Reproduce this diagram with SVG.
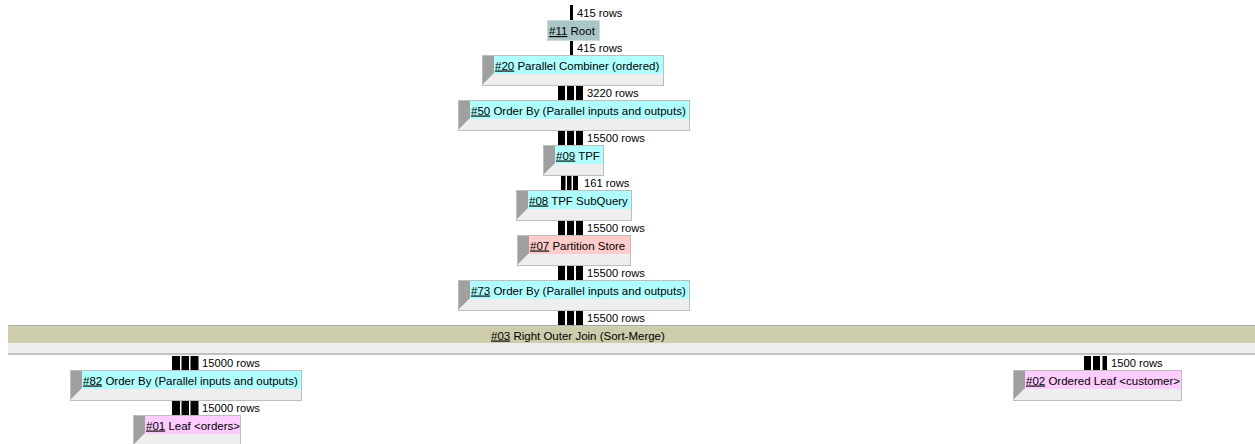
<svg xmlns="http://www.w3.org/2000/svg" width="1255" height="444" viewBox="0 0 1255 444">
<style>
text{font-family:"Liberation Sans",Arial,sans-serif;fill:#000}
.lbl{font-size:11.5px}
.rows{font-size:11.2px}
.u{text-decoration:underline}
.box{fill:#eeeeee;stroke:#bdbdbd;stroke-width:1}
.strip{fill:#a0a0a0}
.cyan{fill:#b0ffff}
.pinkr{fill:#ffcccc}
.pinkm{fill:#ffccff}
.bar{fill:#000}
</style>
<rect width="1255" height="444" fill="#ffffff"/>
<g id="connectors">
<rect class="bar" x="570" y="5" width="3" height="15"/>
<text class="rows" x="577" y="17">415 rows</text>
<rect class="bar" x="570" y="41" width="3" height="14"/>
<text class="rows" x="577" y="52">415 rows</text>
<rect class="bar" x="558" y="86" width="7" height="14"/><rect class="bar" x="567" y="86" width="7" height="14"/><rect class="bar" x="576" y="86" width="7" height="14"/>
<text class="rows" x="587" y="97">3220 rows</text>
<rect class="bar" x="558" y="131" width="7" height="14"/><rect class="bar" x="567" y="131" width="7" height="14"/><rect class="bar" x="576" y="131" width="7" height="14"/>
<text class="rows" x="587" y="142">15500 rows</text>
<rect class="bar" x="561" y="176" width="4.5" height="14"/><rect class="bar" x="567" y="176" width="4.5" height="14"/><rect class="bar" x="573" y="176" width="5" height="14"/>
<text class="rows" x="584" y="187">161 rows</text>
<rect class="bar" x="558" y="221" width="7" height="14"/><rect class="bar" x="567" y="221" width="7" height="14"/><rect class="bar" x="576" y="221" width="7" height="14"/>
<text class="rows" x="587" y="232">15500 rows</text>
<rect class="bar" x="558" y="266" width="7" height="14"/><rect class="bar" x="567" y="266" width="7" height="14"/><rect class="bar" x="576" y="266" width="7" height="14"/>
<text class="rows" x="587" y="277">15500 rows</text>
<rect class="bar" x="558" y="311" width="7" height="14"/><rect class="bar" x="567" y="311" width="7" height="14"/><rect class="bar" x="576" y="311" width="7" height="14"/>
<text class="rows" x="587" y="322">15500 rows</text>
<rect class="bar" x="172" y="356" width="8" height="14"/><rect class="bar" x="181.5" y="356" width="7.5" height="14"/><rect class="bar" x="190.5" y="356" width="8" height="14"/>
<text class="rows" x="202" y="367">15000 rows</text>
<rect class="bar" x="1084" y="356" width="7" height="14"/><rect class="bar" x="1093" y="356" width="7" height="14"/><rect class="bar" x="1102.5" y="356" width="4.5" height="14"/>
<text class="rows" x="1111" y="367">1500 rows</text>
<rect class="bar" x="172" y="401" width="8" height="14"/><rect class="bar" x="181.5" y="401" width="7.5" height="14"/><rect class="bar" x="190.5" y="401" width="8" height="14"/>
<text class="rows" x="202" y="412">15000 rows</text>
</g>
<g id="n11">
<rect x="547.5" y="20.5" width="52" height="20" fill="#aac6c6" stroke="#c9dada"/>
<text class="lbl" x="549" y="35"><tspan class="u">#11</tspan> Root</text>
</g>
<g id="n20">
<rect class="box" x="482.5" y="55.5" width="181" height="30"/>
<polygon class="strip" points="483,56 494,56 494,73 483,84"/>
<rect class="cyan" x="494" y="56" width="169" height="18"/>
<text class="lbl" x="495" y="69.5"><tspan class="u">#20</tspan> Parallel Combiner (ordered)</text>
</g>
<g id="n50">
<rect class="box" x="458.5" y="100.5" width="231" height="30"/>
<polygon class="strip" points="459,101 470,101 470,118 459,129"/>
<rect class="cyan" x="470" y="101" width="219" height="18"/>
<text class="lbl" x="471" y="114.5"><tspan class="u">#50</tspan> Order By (Parallel inputs and outputs)</text>
</g>
<g id="n09">
<rect class="box" x="543.5" y="145.5" width="60" height="30"/>
<polygon class="strip" points="544,146 555,146 555,163 544,174"/>
<rect class="cyan" x="555" y="146" width="48" height="18"/>
<text class="lbl" x="556" y="159.5"><tspan class="u">#09</tspan> TPF</text>
</g>
<g id="n08">
<rect class="box" x="516.5" y="190.5" width="115" height="30"/>
<polygon class="strip" points="517,191 528,191 528,208 517,219"/>
<rect class="cyan" x="528" y="191" width="103" height="18"/>
<text class="lbl" x="529" y="204.5"><tspan class="u">#08</tspan> TPF SubQuery</text>
</g>
<g id="n07">
<rect class="box" x="517.5" y="235.5" width="113" height="30"/>
<polygon class="strip" points="518,236 529,236 529,253 518,264"/>
<rect class="pinkr" x="529" y="236" width="101" height="18"/>
<text class="lbl" x="530" y="249.5"><tspan class="u">#07</tspan> Partition Store</text>
</g>
<g id="n73">
<rect class="box" x="458.5" y="280.5" width="231" height="30"/>
<polygon class="strip" points="459,281 470,281 470,298 459,309"/>
<rect class="cyan" x="470" y="281" width="219" height="18"/>
<text class="lbl" x="471" y="294.5"><tspan class="u">#73</tspan> Order By (Parallel inputs and outputs)</text>
</g>
<g id="n03">
<rect x="8" y="325" width="1247" height="1.5" fill="#a8a8a8"/>
<rect x="8" y="326.5" width="1247" height="16.5" fill="#cdcdab"/>
<rect x="8" y="343" width="1247" height="10" fill="#eeeeee"/>
<rect x="8" y="353" width="1247" height="2" fill="#c2c2c2"/>
<text class="lbl" x="491" y="339.5"><tspan class="u">#03</tspan> Right Outer Join (Sort-Merge)</text>
</g>
<g id="n82">
<rect class="box" x="70.5" y="370.5" width="231" height="30"/>
<polygon class="strip" points="71,371 82,371 82,388 71,399"/>
<rect class="cyan" x="82" y="371" width="219" height="18"/>
<text class="lbl" x="83" y="384.5"><tspan class="u">#82</tspan> Order By (Parallel inputs and outputs)</text>
</g>
<g id="n01">
<rect class="box" x="133.5" y="415.5" width="107" height="30"/>
<polygon class="strip" points="134,416 145,416 145,433 134,444"/>
<rect class="pinkm" x="145" y="416" width="95" height="18"/>
<text class="lbl" x="146" y="429.5"><tspan class="u">#01</tspan> Leaf &lt;orders&gt;</text>
</g>
<g id="n02">
<rect class="box" x="1013.5" y="370.5" width="168" height="30"/>
<polygon class="strip" points="1014,371 1025,371 1025,388 1014,399"/>
<rect class="pinkm" x="1025" y="371" width="156" height="18"/>
<text class="lbl" x="1026" y="384.5"><tspan class="u">#02</tspan> Ordered Leaf &lt;customer&gt;</text>
</g>
</svg>
